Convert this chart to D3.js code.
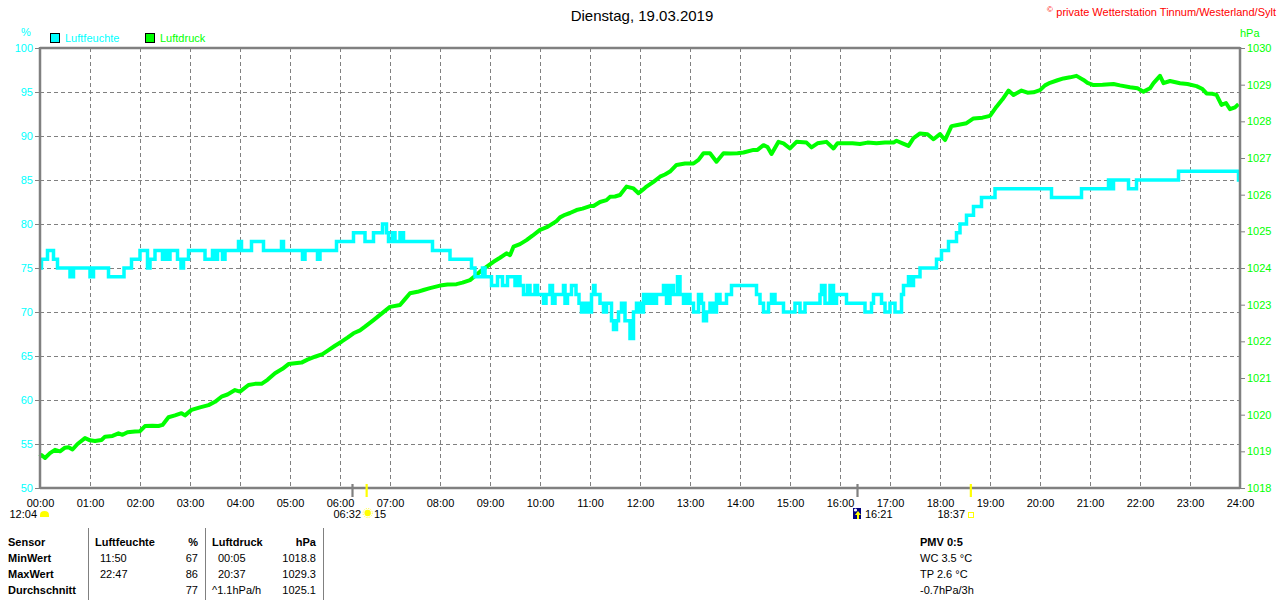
<!DOCTYPE html>
<html><head><meta charset="utf-8">
<script src="https://cdn.jsdelivr.net/npm/d3@7/dist/d3.min.js"></script>
<style>
body{margin:0;background:#fff}
svg{display:block;font-family:"Liberation Sans",Arial,sans-serif}
</style>
</head><body>
<svg id="c" width="1280" height="600"></svg>
<script>
// ---------- data ----------
const title = "Dienstag, 19.03.2019";
const copyright = "private Wetterstation Tinnum/Westerland/Sylt";
const hourTicks = [0,1,2,3,4,5,6,7,8,9,10,11,12,13,14,15,16,17,18,19,20,21,22,23,24];
const hourLabels = ["00:00","01:00","02:00","03:00","04:00","05:00","06:00","07:00","08:00","09:00","10:00","11:00","12:00","13:00","14:00","15:00","16:00","17:00","18:00","19:00","20:00","21:00","22:00","23:00","24:00"];
const humidityTicks = [50,55,60,65,70,75,80,85,90,95,100];
const pressureTicks = [1018,1019,1020,1021,1022,1023,1024,1025,1026,1027,1028,1029,1030];

// Luftfeuchte [hour, %] (step series)
const humidity = [
 [0,75],[0.03,76],[0.15,77],[0.27,76],[0.35,75],[0.6,74],[0.67,75],[1.0,74],[1.07,75],[1.37,74],[1.68,75],[1.83,76],
 [2.0,77],[2.15,75],[2.2,76],[2.3,77],[2.45,76],[2.5,77],[2.55,76],[2.6,77],[2.75,76],[2.82,75],[2.87,76],[2.97,77],
 [3.3,76],[3.45,77],[3.5,76],[3.55,77],[3.65,76],[3.7,77],[3.97,78],[4.03,77],[4.23,78],[4.47,77],[4.83,78],[4.87,77],
 [5.25,76],[5.3,77],[5.55,76],[5.6,77],[5.93,78],[6.27,79],[6.5,78],[6.67,79],[6.85,80],[6.93,79],[6.97,78],[7.05,79],
 [7.1,78],[7.2,79],[7.27,78],[7.85,77],[8.2,76],[8.63,75],[8.7,74],[8.85,75],[8.9,74],[9.03,73],[9.15,74],[9.25,73],
 [9.35,74],[9.5,73],[9.57,74],[9.6,73],[9.67,72],[9.75,73],[9.8,72],[9.9,73],[9.95,72],[10.07,71],[10.12,72],[10.2,73],
 [10.25,71],[10.3,72],[10.4,72],[10.47,73],[10.5,71],[10.55,72],[10.63,73],[10.72,72],[10.78,71],[10.83,70],[10.9,71],
 [10.97,70],[11.03,72],[11.07,73],[11.1,72],[11.2,71],[11.27,70],[11.33,71],[11.43,69],[11.47,68],[11.53,69],[11.57,70],
 [11.63,71],[11.7,69],[11.8,67],[11.87,70],[11.93,71],[12.0,70],[12.07,72],[12.13,71],[12.2,72],[12.27,71],[12.33,72],
 [12.47,73],[12.53,71],[12.6,73],[12.67,72],[12.75,74],[12.8,72],[12.87,71],[12.93,72],[13.0,71],[13.07,70],[13.17,72],
 [13.23,71],[13.27,69],[13.33,70],[13.4,71],[13.47,70],[13.53,72],[13.6,71],[13.73,72],[13.83,73],[14.33,72],[14.4,71],
 [14.47,70],[14.57,71],[14.63,72],[14.7,71],[14.87,70],[15.1,71],[15.2,70],[15.3,71],[15.6,72],[15.63,73],[15.7,71],
 [15.8,73],[15.87,71],[15.93,72],[16.13,71],[16.5,70],[16.63,71],[16.67,72],[16.83,71],[16.9,70],[17.0,71],[17.1,70],
 [17.23,72],[17.27,73],[17.37,74],[17.43,73],[17.47,74],[17.6,75],[17.93,76],[18.03,77],[18.17,78],[18.33,79],[18.4,80],
 [18.53,81],[18.67,82],[18.83,83],[19.1,84],[20.23,83],[20.83,84],[21.37,85],[21.42,84],[21.47,85],[21.77,84],[21.93,85],
 [22.77,86],[23.97,85],[24,85]
];

// Luftdruck [hour, hPa]
const pressure = [
 [0.0,1018.85],[0.03,1018.90],[0.1,1018.82],[0.2,1018.95],[0.3,1019.04],[0.4,1019.00],[0.5,1019.10],[0.57,1019.11],
 [0.65,1019.05],[0.75,1019.20],[0.9,1019.36],[1.0,1019.30],[1.1,1019.28],[1.23,1019.31],[1.3,1019.40],[1.45,1019.42],
 [1.57,1019.49],[1.65,1019.45],[1.75,1019.52],[1.9,1019.54],[2.0,1019.55],[2.1,1019.69],[2.25,1019.70],[2.37,1019.69],
 [2.45,1019.72],[2.57,1019.93],[2.7,1019.98],[2.83,1020.04],[2.9,1019.98],[3.03,1020.13],[3.2,1020.20],[3.37,1020.26],
 [3.5,1020.35],[3.63,1020.49],[3.75,1020.55],[3.9,1020.67],[4.0,1020.63],[4.17,1020.81],[4.3,1020.84],[4.43,1020.84],
 [4.55,1020.95],[4.7,1021.13],[4.85,1021.25],[4.97,1021.38],[5.1,1021.40],[5.23,1021.42],[5.35,1021.50],[5.5,1021.58],
 [5.65,1021.65],[5.77,1021.76],[5.9,1021.88],[6.03,1021.99],[6.15,1022.10],[6.27,1022.22],[6.4,1022.30],[6.5,1022.40],
 [6.67,1022.58],[6.8,1022.72],[7.0,1022.94],[7.2,1022.99],[7.3,1023.15],[7.4,1023.31],[7.55,1023.35],[7.67,1023.40],
 [7.8,1023.45],[8.0,1023.52],[8.15,1023.55],[8.33,1023.56],[8.45,1023.60],[8.6,1023.67],[8.7,1023.78],[8.8,1023.90],
 [8.95,1024.05],[9.07,1024.17],[9.2,1024.28],[9.33,1024.40],[9.4,1024.35],[9.47,1024.58],[9.6,1024.65],[9.73,1024.76],
 [9.85,1024.88],[10.0,1025.04],[10.15,1025.12],[10.33,1025.28],[10.4,1025.38],[10.5,1025.45],[10.6,1025.50],
 [10.73,1025.58],[10.85,1025.62],[11.0,1025.69],[11.07,1025.69],[11.2,1025.80],[11.33,1025.85],[11.4,1025.94],
 [11.5,1025.95],[11.6,1025.99],[11.73,1026.22],[11.87,1026.17],[11.97,1026.04],[12.07,1026.15],[12.13,1026.22],
 [12.27,1026.35],[12.4,1026.49],[12.5,1026.55],[12.6,1026.63],[12.73,1026.81],[12.9,1026.85],[13.07,1026.85],
 [13.17,1026.95],[13.27,1027.13],[13.4,1027.13],[13.53,1026.90],[13.67,1027.13],[13.8,1027.12],[13.95,1027.13],
 [14.07,1027.15],[14.27,1027.22],[14.35,1027.22],[14.47,1027.35],[14.55,1027.30],[14.63,1027.11],[14.77,1027.44],
 [14.87,1027.40],[15.0,1027.26],[15.13,1027.44],[15.33,1027.42],[15.43,1027.29],[15.55,1027.40],[15.73,1027.44],
 [15.87,1027.26],[15.95,1027.40],[16.07,1027.40],[16.25,1027.40],[16.4,1027.38],[16.55,1027.42],[16.73,1027.40],
 [16.9,1027.42],[17.07,1027.42],[17.13,1027.47],[17.25,1027.40],[17.37,1027.33],[17.47,1027.54],[17.6,1027.67],
 [17.75,1027.65],[17.87,1027.51],[18.0,1027.65],[18.1,1027.49],[18.23,1027.87],[18.35,1027.90],[18.53,1027.95],
 [18.67,1028.08],[18.85,1028.10],[19.0,1028.15],[19.13,1028.40],[19.25,1028.60],[19.37,1028.84],[19.47,1028.72],
 [19.55,1028.78],[19.63,1028.84],[19.75,1028.78],[19.87,1028.79],[20.0,1028.85],[20.1,1028.98],[20.2,1029.05],
 [20.35,1029.12],[20.47,1029.17],[20.6,1029.20],[20.73,1029.24],[20.87,1029.13],[20.95,1029.05],[21.07,1028.99],
 [21.25,1029.00],[21.47,1029.02],[21.6,1028.98],[21.8,1028.93],[21.95,1028.90],[22.07,1028.81],[22.2,1028.90],
 [22.27,1029.04],[22.4,1029.24],[22.47,1029.04],[22.6,1029.10],[22.8,1029.04],[22.95,1029.02],[23.13,1028.96],
 [23.25,1028.88],[23.33,1028.76],[23.45,1028.75],[23.53,1028.72],[23.63,1028.45],[23.72,1028.50],[23.8,1028.33],
 [23.9,1028.38],[23.97,1028.47]
];

// astro markers [hour, kind]
const markerTimes = [6.25, 6.533, 16.35, 18.617];
const markerKinds = ["grey","yellow","grey","yellow"];

// statistics table
const tableHeader = ["Sensor","Luftfeuchte","%","Luftdruck","hPa"];
const tableLabels = ["MinWert","MaxWert","Durchschnitt"];
const humTime = ["11:50","22:47",""];
const humVal = ["67","86","77"];
const presTime = ["00:05","20:37","^1.1hPa/h"];
const presVal = ["1018.8","1029.3","1025.1"];
const pmvLines = ["PMV 0:5","WC 3.5 °C","TP 2.6 °C","-0.7hPa/3h"];

// ---------- drawing ----------
const svg = d3.select("#c");
const font = '"Liberation Sans",Arial,sans-serif';
const CYAN = "#00ffff", GREEN = "#00ff00", GREY = "#808080";
const L = 40, R = 1240, T = 48, B = 488;

const x = d3.scaleLinear().domain([0,24]).range([L,R]);
const yH = d3.scaleLinear().domain([50,100]).range([B,T]);
const yP = d3.scaleLinear().domain([1018,1030]).range([B,T]);

// title & copyright
svg.append("text").attr("x",642).attr("y",21).attr("text-anchor","middle")
  .attr("font-size",15).attr("fill","#000").text(title);
svg.append("text").attr("x",1276).attr("y",16).attr("text-anchor","end")
  .attr("font-size",11).attr("fill","#ff0000").text(copyright);
svg.append("text").attr("x",1047).attr("y",12).attr("font-size",8).attr("fill","#ff0000").text("©");

// unit labels
svg.append("text").attr("x",26).attr("y",36).attr("text-anchor","middle").attr("font-size",11).attr("fill",CYAN).text("%");
svg.append("text").attr("x",1240).attr("y",37).attr("font-size",11).attr("fill",GREEN).text("hPa");

// legend
const legend = [["Luftfeuchte",CYAN,50],["Luftdruck",GREEN,145]];
legend.forEach(([name,col,lx])=>{
  svg.append("rect").attr("x",lx+0.5).attr("y",33.5).attr("width",9).attr("height",9)
    .attr("fill",col).attr("stroke","#000").attr("stroke-width",1);
  svg.append("text").attr("x",lx+15).attr("y",42).attr("font-size",11).attr("fill",col).text(name);
});

// grid
const grid = svg.append("g").attr("stroke",GREY).attr("stroke-width",1).attr("stroke-dasharray","4,3");
grid.selectAll("line.v").data(hourTicks.slice(1,-1)).join("line")
  .attr("x1",d=>Math.round(x(d))+0.5).attr("x2",d=>Math.round(x(d))+0.5).attr("y1",T).attr("y2",B);
grid.selectAll("line.h").data(humidityTicks.slice(1,-1)).join("line")
  .attr("y1",d=>Math.round(yH(d))+0.5).attr("y2",d=>Math.round(yH(d))+0.5).attr("x1",L).attr("x2",R);

// axes
const axL = svg.append("g").attr("transform",`translate(${L},0)`)
  .call(d3.axisLeft(yH).tickValues(humidityTicks).tickSize(5).tickPadding(2));
axL.select(".domain").remove();
axL.selectAll("line").attr("stroke",GREY);
axL.selectAll("text").attr("fill",CYAN).attr("font-size",11).attr("font-family",font);

const axR = svg.append("g").attr("transform",`translate(${R},0)`)
  .call(d3.axisRight(yP).tickValues(pressureTicks).tickFormat(d3.format("d")).tickSize(5).tickPadding(2));
axR.select(".domain").remove();
axR.selectAll("line").attr("stroke",GREY);
axR.selectAll("text").attr("fill",GREEN).attr("font-size",11).attr("font-family",font);

const axB = svg.append("g").attr("transform",`translate(0,${B})`)
  .call(d3.axisBottom(x).tickValues(hourTicks).tickFormat((d,i)=>hourLabels[i]).tickSize(0));
axB.select(".domain").remove();
axB.selectAll("text").attr("fill","#000").attr("font-size",11).attr("font-family",font)
  .attr("y",19).attr("dy",0);

// data lines
const lineP = d3.line().x(d=>x(d[0])).y(d=>yP(d[1]));
svg.append("path").datum(pressure).attr("d",lineP).attr("fill","none")
  .attr("stroke",GREEN).attr("stroke-width",4).attr("stroke-linejoin","round");
const lineH = d3.line().x(d=>x(d[0])).y(d=>yH(d[1])).curve(d3.curveStepAfter);
svg.append("path").datum(humidity).attr("d",lineH).attr("fill","none")
  .attr("stroke",CYAN).attr("stroke-width",3.5);

// frame
const frame = svg.append("g").attr("stroke",GREY).attr("stroke-width",2.5).attr("fill","none");
frame.append("line").attr("x1",L).attr("x2",R).attr("y1",T).attr("y2",T);
frame.append("line").attr("x1",L).attr("x2",R).attr("y1",B).attr("y2",B);
frame.append("line").attr("x1",L).attr("x2",L).attr("y1",T-1).attr("y2",B+1);
frame.append("line").attr("x1",R).attr("x2",R).attr("y1",T-1).attr("y2",B+1);

// astro markers
svg.selectAll("line.mk").data(markerTimes).join("line")
  .attr("x1",d=>x(d)).attr("x2",d=>x(d)).attr("y1",B-4).attr("y2",B+9)
  .attr("stroke",(d,i)=>markerKinds[i]==="grey"?GREY:"#ffff00").attr("stroke-width",2.2);

const small = svg.append("g").attr("font-size",11).attr("fill","#000");
// 12:04 moon
small.append("text").attr("x",37).attr("y",518).attr("text-anchor","end").text("12:04");
svg.append("path").attr("d","M40,517 L40,515 Q40,511 44.5,511 Q49,511 49,515 L49,517 Z").attr("fill","#ffff00");
// sunrise
small.append("text").attr("x",361).attr("y",518).attr("text-anchor","end").text("06:32");
svg.append("circle").attr("cx",x(markerTimes[1])+1).attr("cy",513).attr("r",3.2).attr("fill","#ffff00");
svg.append("circle").attr("cx",x(markerTimes[1])+1).attr("cy",513).attr("r",4.6).attr("fill","none")
  .attr("stroke","#ffff00").attr("stroke-width",1).attr("stroke-dasharray","1.2,1.2").attr("opacity",0.7);
small.append("text").attr("x",374).attr("y",518).text("15");
// moonrise icon
svg.append("rect").attr("x",853).attr("y",508).attr("width",8).attr("height",11).attr("fill","#000080");
svg.append("circle").attr("cx",855.5).attr("cy",510).attr("r",1.6).attr("fill","#fff");
svg.append("path").attr("d","M858,511 L861,515 L859,515 L859,519 L857,519 L857,515 L855,515 Z").attr("fill","#ffff00");
small.append("text").attr("x",865).attr("y",518).text("16:21");
// sunset
small.append("text").attr("x",965).attr("y",518).attr("text-anchor","end").text("18:37");
svg.append("rect").attr("x",968.5).attr("y",512.5).attr("width",5).attr("height",5)
  .attr("fill","none").attr("stroke","#ffff00").attr("stroke-width",1);

// table
const rowsY = [546,562,578,594];
const tb = svg.append("g").attr("font-size",11).attr("fill","#000");
[88.5,205.5,323.5].forEach(sx=>{
  svg.append("line").attr("x1",sx).attr("x2",sx).attr("y1",528).attr("y2",600).attr("stroke",GREY).attr("stroke-width",1);
});
tb.append("text").attr("x",8).attr("y",rowsY[0]).attr("font-weight","bold").text(tableHeader[0]);
tb.append("text").attr("x",95).attr("y",rowsY[0]).attr("font-weight","bold").text(tableHeader[1]);
tb.append("text").attr("x",198).attr("y",rowsY[0]).attr("font-weight","bold").attr("text-anchor","end").text(tableHeader[2]);
tb.append("text").attr("x",212).attr("y",rowsY[0]).attr("font-weight","bold").text(tableHeader[3]);
tb.append("text").attr("x",316).attr("y",rowsY[0]).attr("font-weight","bold").attr("text-anchor","end").text(tableHeader[4]);
tableLabels.forEach((lab,i)=>{
  const yy = rowsY[i+1];
  tb.append("text").attr("x",8).attr("y",yy).attr("font-weight","bold").text(lab);
  tb.append("text").attr("x",100).attr("y",yy).text(humTime[i]);
  tb.append("text").attr("x",198).attr("y",yy).attr("text-anchor","end").text(humVal[i]);
  tb.append("text").attr("x",presTime[i].startsWith("^")?212:218).attr("y",yy).text(presTime[i]);
  tb.append("text").attr("x",316).attr("y",yy).attr("text-anchor","end").text(presVal[i]);
});
pmvLines.forEach((t,i)=>{
  tb.append("text").attr("x",920).attr("y",rowsY[i]).attr("font-weight",i===0?"bold":"normal").text(t);
});
</script>
</body></html>
